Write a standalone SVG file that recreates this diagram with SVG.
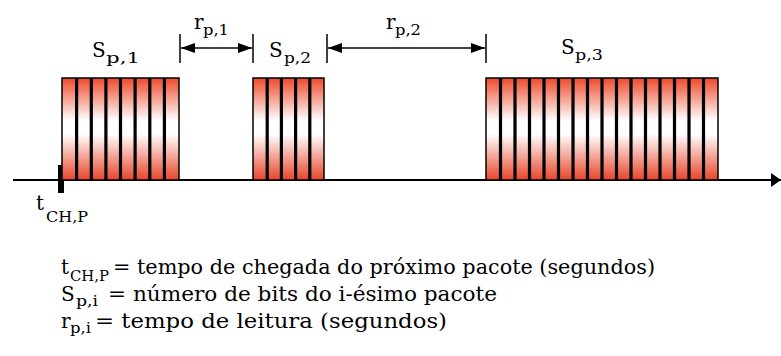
<svg xmlns="http://www.w3.org/2000/svg" width="781" height="356" viewBox="0 0 781 356">
  <defs>
    <linearGradient id="cellGrad" x1="0" y1="0" x2="0" y2="1">
      <stop offset="0" stop-color="#ee4a2c"/>
      <stop offset="0.42" stop-color="#ffffff"/>
      <stop offset="0.55" stop-color="#ffffff"/>
      <stop offset="1" stop-color="#e8452a"/>
    </linearGradient>
    <marker id="ah" viewBox="0 0 14 10" refX="14" refY="5" markerWidth="14" markerHeight="10" markerUnits="userSpaceOnUse" orient="auto">
      <path d="M0,0 L14,5 L0,10 Z" fill="#000"/>
    </marker>
    <marker id="axh" viewBox="0 0 10 14" refX="10" refY="7" markerWidth="10" markerHeight="14" markerUnits="userSpaceOnUse" orient="auto">
      <path d="M0,0 L10,7 L0,14 Z" fill="#000"/>
    </marker>
  </defs>
  <style>
    .cell { fill: url(#cellGrad); stroke: #000; stroke-width: 1.5; }
    .bar { fill: #000; }
    .txt { font-family: "DejaVu Serif", "Liberation Serif", serif; fill: #000; }
    .main { font-size: 20px; }
    .sub { font-size: 15px; }
    .dim { stroke: #000; stroke-width: 1.5; fill: none; }
  </style>
  <rect width="781" height="356" fill="#ffffff"/>

  <g id="axis">
    <line x1="13" y1="180" x2="781" y2="180" stroke="#000" stroke-width="2" marker-end="url(#axh)"/>
    <rect x="58" y="165" width="6" height="28" fill="#000"/>
  </g>

  <g id="packet1">
    <rect class="cell" x="62" y="78" width="117" height="102"/>
    <rect class="bar" x="75" y="78" width="3.2" height="102"/>
    <rect class="bar" x="89.7" y="78" width="3.2" height="102"/>
    <rect class="bar" x="104.3" y="78" width="3.2" height="102"/>
    <rect class="bar" x="118.9" y="78" width="3.2" height="102"/>
    <rect class="bar" x="133.5" y="78" width="3.2" height="102"/>
    <rect class="bar" x="148.2" y="78" width="3.2" height="102"/>
    <rect class="bar" x="162.8" y="78" width="3.2" height="102"/>
    <text class="txt main" x="92" y="57">S</text>
    <text class="txt sub" x="106" y="63" textLength="34" lengthAdjust="spacingAndGlyphs">p,1</text>
  </g>

  <g id="packet2">
    <rect class="cell" x="253" y="78" width="71" height="102"/>
    <rect class="bar" x="265.6" y="78" width="3.2" height="102"/>
    <rect class="bar" x="279.8" y="78" width="3.2" height="102"/>
    <rect class="bar" x="294" y="78" width="3.2" height="102"/>
    <rect class="bar" x="308.2" y="78" width="3.2" height="102"/>
    <text class="txt main" x="269" y="57">S</text>
    <text class="txt sub" x="284" y="63" textLength="27" lengthAdjust="spacingAndGlyphs">p,2</text>
  </g>

  <g id="packet3">
    <rect class="cell" x="486" y="78" width="232" height="102"/>
    <rect class="bar" x="498.9" y="78" width="3.2" height="102"/>
    <rect class="bar" x="513.4" y="78" width="3.2" height="102"/>
    <rect class="bar" x="527.9" y="78" width="3.2" height="102"/>
    <rect class="bar" x="542.4" y="78" width="3.2" height="102"/>
    <rect class="bar" x="556.9" y="78" width="3.2" height="102"/>
    <rect class="bar" x="571.4" y="78" width="3.2" height="102"/>
    <rect class="bar" x="585.9" y="78" width="3.2" height="102"/>
    <rect class="bar" x="600.4" y="78" width="3.2" height="102"/>
    <rect class="bar" x="614.9" y="78" width="3.2" height="102"/>
    <rect class="bar" x="629.4" y="78" width="3.2" height="102"/>
    <rect class="bar" x="643.9" y="78" width="3.2" height="102"/>
    <rect class="bar" x="658.4" y="78" width="3.2" height="102"/>
    <rect class="bar" x="672.9" y="78" width="3.2" height="102"/>
    <rect class="bar" x="687.4" y="78" width="3.2" height="102"/>
    <rect class="bar" x="701.9" y="78" width="3.2" height="102"/>
    <text class="txt main" x="561" y="54">S</text>
    <text class="txt sub" x="575" y="60" textLength="28" lengthAdjust="spacingAndGlyphs">p,3</text>
  </g>

  <g id="connectors">
    <line class="dim" x1="180" y1="34" x2="180" y2="63"/>
    <line class="dim" x1="253" y1="34" x2="253" y2="63"/>
    <line class="dim" x1="327" y1="34" x2="327" y2="63"/>
    <line class="dim" x1="486" y1="34" x2="486" y2="63"/>
    <line class="dim" x1="216" y1="48" x2="181" y2="48" marker-end="url(#ah)"/>
    <line class="dim" x1="216" y1="48" x2="252" y2="48" marker-end="url(#ah)"/>
    <line class="dim" x1="406" y1="48" x2="328" y2="48" marker-end="url(#ah)"/>
    <line class="dim" x1="406" y1="48" x2="485" y2="48" marker-end="url(#ah)"/>
  </g>

  <g id="label-r1">
    <text class="txt main" x="194" y="29">r</text>
    <text class="txt sub" x="203" y="35" textLength="26" lengthAdjust="spacingAndGlyphs">p,1</text>
  </g>
  <g id="label-r2">
    <text class="txt main" x="386" y="29">r</text>
    <text class="txt sub" x="395" y="35" textLength="26" lengthAdjust="spacingAndGlyphs">p,2</text>
  </g>
  <g id="label-tchp">
    <text class="txt main" x="36" y="210">t</text>
    <text class="txt sub" x="46" y="222" textLength="42" lengthAdjust="spacingAndGlyphs">CH,P</text>
  </g>

  <g id="legend">
    <text class="txt main" x="61" y="274">t</text>
    <text class="txt sub" x="70" y="281" textLength="39" lengthAdjust="spacingAndGlyphs">CH,P</text>
    <text class="txt main" x="113" y="274" textLength="542" lengthAdjust="spacingAndGlyphs">= tempo de chegada do próximo pacote (segundos)</text>

    <text class="txt main" x="61" y="301">S</text>
    <text class="txt sub" x="76" y="306" textLength="22" lengthAdjust="spacingAndGlyphs">p,i</text>
    <text class="txt main" x="108" y="301" textLength="389" lengthAdjust="spacingAndGlyphs">= número de bits do i-ésimo pacote</text>

    <text class="txt main" x="61" y="328">r</text>
    <text class="txt sub" x="70" y="333" textLength="21" lengthAdjust="spacingAndGlyphs">p,i</text>
    <text class="txt main" x="95" y="328" textLength="352" lengthAdjust="spacingAndGlyphs">= tempo de leitura (segundos)</text>
  </g>
</svg>
